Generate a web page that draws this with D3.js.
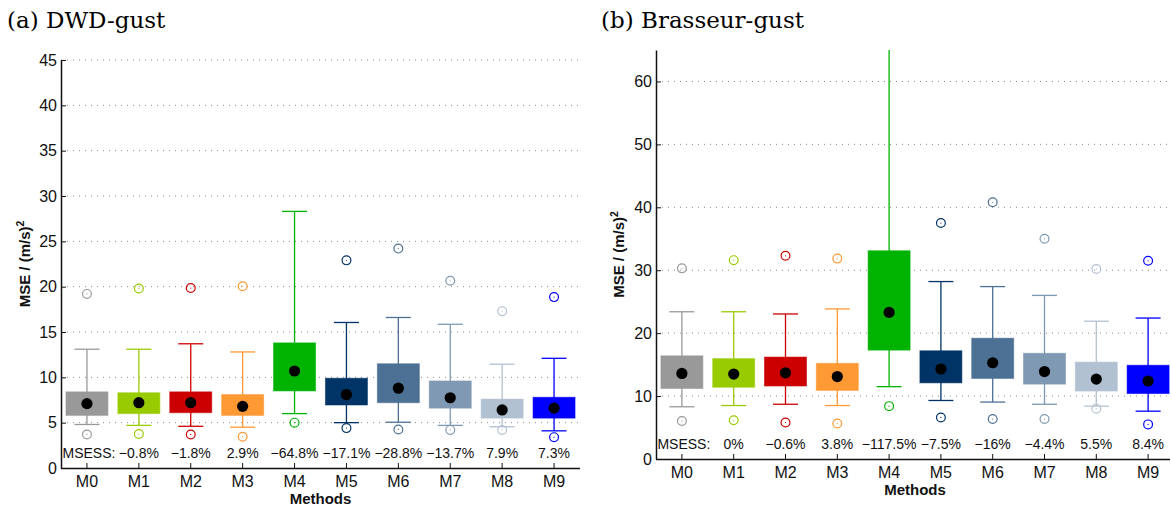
<!DOCTYPE html>
<html><head><meta charset="utf-8">
<script src="https://cdn.jsdelivr.net/npm/d3@7"></script>
<style>body{margin:0;background:#fff}</style>
</head><body>
<svg id="c" width="1171" height="506"></svg>
<script>
const methods = ["M0","M1","M2","M3","M4","M5","M6","M7","M8","M9"];
const boxColors = ["#999999","#99cc00","#cc0000","#ff9933","#00b300","#003366","#4c7194","#7f99b2","#b2c1d1","#0000ff"];
const skillLabel = "MSESS:";

// (a) DWD-gust
const dwdTicks = [0,5,10,15,20,25,30,35,40,45];
const dwdQ1 = [5.8, 6.0, 6.1, 5.8, 8.5, 6.95, 7.2, 6.6, 5.5, 5.5];
const dwdQ3 = [8.4, 8.3, 8.4, 8.1, 13.8, 9.9, 11.5, 9.6, 7.6, 7.8];
const dwdMean = [7.1, 7.2, 7.2, 6.8, 10.7, 8.1, 8.8, 7.75, 6.4, 6.6];
const dwdWhiskerLo = [4.8, 4.7, 4.6, 4.5, 6.0, 5.0, 5.05, 4.7, 4.55, 4.1];
const dwdWhiskerHi = [13.1, 13.1, 13.7, 12.8, 28.3, 16.05, 16.6, 15.85, 11.45, 12.1];
const dwdOutLo = [3.7, 3.75, 3.7, 3.45, 5.0, 4.4, 4.25, 4.2, 4.2, 3.4];
const dwdOutHi = [19.2, 19.8, 19.85, 20.05, null, 22.9, 24.2, 20.65, 17.3, 18.85];
const dwdSkill = ["", "−0.8%", "−1.8%", "2.9%", "−64.8%", "−17.1%", "−28.8%", "−13.7%", "7.9%", "7.3%"];

// (b) Brasseur-gust
const brasTicks = [0,10,20,30,40,50,60];
const brasQ1 = [11.2, 11.4, 11.6, 10.9, 17.3, 12.1, 12.8, 11.9, 10.8, 10.4];
const brasQ3 = [16.4, 15.95, 16.2, 15.2, 33.1, 17.2, 19.2, 16.8, 15.4, 14.9];
const brasMean = [13.6, 13.5, 13.7, 13.1, 23.3, 14.3, 15.3, 13.9, 12.7, 12.4];
const brasWhiskerLo = [8.3, 8.5, 8.7, 8.5, 11.5, 9.3, 9.05, 8.7, 8.4, 7.6];
const brasWhiskerHi = [23.4, 23.4, 23.05, 23.85, 70, 28.2, 27.4, 26.0, 21.9, 22.4];
const brasOutLo = [6.05, 6.15, 5.8, 5.65, 8.4, 6.6, 6.35, 6.35, 8.0, 5.5];
const brasOutHi = [30.3, 31.6, 32.3, 31.85, null, 37.5, 40.8, 35.0, 30.2, 31.5];
const brasSkill = ["", "0%", "−0.6%", "3.8%", "−117.5%", "−7.5%", "−16%", "−4.4%", "5.5%", "8.4%"];

const svg = d3.select("#c");
const sans = "'Liberation Sans', Arial, Helvetica, sans-serif";

function panel(cfg, id) {
  const x = d3.scaleBand().domain(methods).range([cfg.x0, cfg.x1]).padding(0);
  const y = d3.scaleLinear().domain([0, cfg.yMax]).range([cfg.yBottom, cfg.yTop]);
  const g = svg.append("g");
  const axisRight = Math.min(cfg.x1, 1170);

  g.append("clipPath").attr("id", "clip" + id).append("rect")
    .attr("x", cfg.x0).attr("y", cfg.yTop).attr("width", axisRight - cfg.x0).attr("height", cfg.yBottom - cfg.yTop);

  // title
  svg.append("text").attr("x", cfg.titleX).attr("y", 28)
    .attr("font-family", "'DejaVu Serif', serif").attr("font-size", 23).attr("fill", "#000")
    .text(cfg.title);

  // grid
  g.append("g").selectAll("line").data(cfg.ticks.filter(t => t > 0)).join("line")
    .attr("x1", cfg.x0).attr("x2", axisRight)
    .attr("y1", d => y(d)).attr("y2", d => y(d))
    .attr("stroke", "#8a8a8a").attr("stroke-width", 1).attr("stroke-dasharray", "1,5");

  const data = methods.map((m, i) => ({
    m, i, q1: cfg.q1[i], q3: cfg.q3[i], mean: cfg.mean[i], lo: cfg.wlo[i], hi: cfg.whi[i],
    olo: cfg.olo[i], ohi: cfg.ohi[i], c: boxColors[i], s: cfg.skill[i]
  }));
  const cx = d => x(d.m) + x.bandwidth() / 2;
  const bw = 42, capW = 25;
  const pg = g.append("g").attr("clip-path", `url(#clip${id})`);

  // whiskers
  pg.selectAll("line.wh").data(data).join("line").attr("class", "wh")
    .attr("x1", cx).attr("x2", cx).attr("y1", d => y(d.lo)).attr("y2", d => y(d.hi))
    .attr("stroke", d => d.c).attr("stroke-width", 1.3);
  pg.selectAll("line.capLo").data(data).join("line").attr("class", "capLo")
    .attr("x1", d => cx(d) - capW / 2).attr("x2", d => cx(d) + capW / 2)
    .attr("y1", d => y(d.lo)).attr("y2", d => y(d.lo))
    .attr("stroke", d => d.c).attr("stroke-width", 1.3);
  pg.selectAll("line.capHi").data(data).join("line").attr("class", "capHi")
    .attr("x1", d => cx(d) - capW / 2).attr("x2", d => cx(d) + capW / 2)
    .attr("y1", d => y(d.hi)).attr("y2", d => y(d.hi))
    .attr("stroke", d => d.c).attr("stroke-width", 1.3);

  // boxes
  pg.selectAll("rect.box").data(data).join("rect").attr("class", "box")
    .attr("x", d => cx(d) - bw / 2).attr("width", bw)
    .attr("y", d => y(d.q3)).attr("height", d => y(d.q1) - y(d.q3))
    .attr("fill", d => d.c).attr("stroke", d => d.c).attr("stroke-opacity", 0.55).attr("stroke-width", 1);

  // means
  pg.selectAll("circle.mean").data(data).join("circle").attr("class", "mean")
    .attr("cx", cx).attr("cy", d => y(d.mean)).attr("r", 5.6).attr("fill", "#000");

  // outliers
  const outs = [];
  data.forEach(d => {
    if (d.olo != null) outs.push({ d, v: d.olo });
    if (d.ohi != null) outs.push({ d, v: d.ohi });
  });
  pg.selectAll("circle.out").data(outs).join("circle").attr("class", "out")
    .attr("cx", o => cx(o.d)).attr("cy", o => y(o.v)).attr("r", 4.4)
    .attr("fill", "none").attr("stroke", o => o.d.c).attr("stroke-width", 1.2);
  pg.selectAll("circle.outc").data(outs).join("circle").attr("class", "outc")
    .attr("cx", o => cx(o.d)).attr("cy", o => y(o.v)).attr("r", 0.6)
    .attr("fill", o => o.d.c);

  // MSESS row
  g.append("text").attr("x", cx(data[0]) + 2).attr("y", cfg.yBottom - 10)
    .attr("text-anchor", "middle").attr("font-family", sans).attr("font-size", 14).attr("fill", "#111")
    .text(skillLabel);
  g.selectAll("text.sk").data(data.filter(d => d.s !== "")).join("text").attr("class", "sk")
    .attr("x", cx).attr("y", cfg.yBottom - 10)
    .attr("text-anchor", "middle").attr("font-family", sans).attr("font-size", 14).attr("fill", "#111")
    .text(d => d.s);

  // axes
  const ya = d3.axisLeft(y).tickValues(cfg.ticks).tickSizeInner(-5).tickSizeOuter(0).tickPadding(4);
  const yg = g.append("g").attr("transform", `translate(${cfg.x0},0)`).call(ya);
  const xa = d3.axisBottom(x).tickSizeInner(-5).tickSizeOuter(0).tickPadding(8);
  const xg = g.append("g").attr("transform", `translate(0,${cfg.yBottom})`).call(xa);
  [yg, xg].forEach(a => {
    a.selectAll("text").attr("font-family", sans).attr("font-size", 16).attr("fill", "#111");
    a.selectAll("line").attr("stroke", "#111");
    a.select(".domain").attr("stroke", "#111").attr("stroke-width", 1.5);
  });
  xg.select(".domain").attr("d", `M${cfg.x0},0.5H${axisRight}`);

  // axis titles
  const midX = (cfg.x0 + cfg.x1) / 2;
  g.append("text").attr("x", midX).attr("y", cfg.yBottom + 36)
    .attr("text-anchor", "middle").attr("font-family", sans).attr("font-size", 15)
    .attr("font-weight", "bold").attr("fill", "#111").text("Methods");
  const yl = g.append("text")
    .attr("transform", `translate(${cfg.yLabelX},${(cfg.yTop + cfg.yBottom) / 2}) rotate(-90)`)
    .attr("text-anchor", "middle").attr("font-family", sans).attr("font-size", 15)
    .attr("font-weight", "bold").attr("fill", "#111");
  yl.append("tspan").text("MSE / (m/s)");
  yl.append("tspan").attr("font-size", 10.5).attr("dy", -6).text("2");
}

panel({
  x0: 61, x1: 580, yTop: 60, yBottom: 468, yMax: 45, ticks: dwdTicks,
  q1: dwdQ1, q3: dwdQ3, mean: dwdMean, wlo: dwdWhiskerLo, whi: dwdWhiskerHi,
  olo: dwdOutLo, ohi: dwdOutHi, skill: dwdSkill,
  title: "(a) DWD-gust", titleX: 7, yLabelX: 30
}, "a");

panel({
  x0: 656, x1: 1174, yTop: 50, yBottom: 459, yMax: 65, ticks: brasTicks,
  q1: brasQ1, q3: brasQ3, mean: brasMean, wlo: brasWhiskerLo, whi: brasWhiskerHi,
  olo: brasOutLo, ohi: brasOutHi, skill: brasSkill,
  title: "(b) Brasseur-gust", titleX: 601, yLabelX: 624
}, "b");
</script>
</body></html>
